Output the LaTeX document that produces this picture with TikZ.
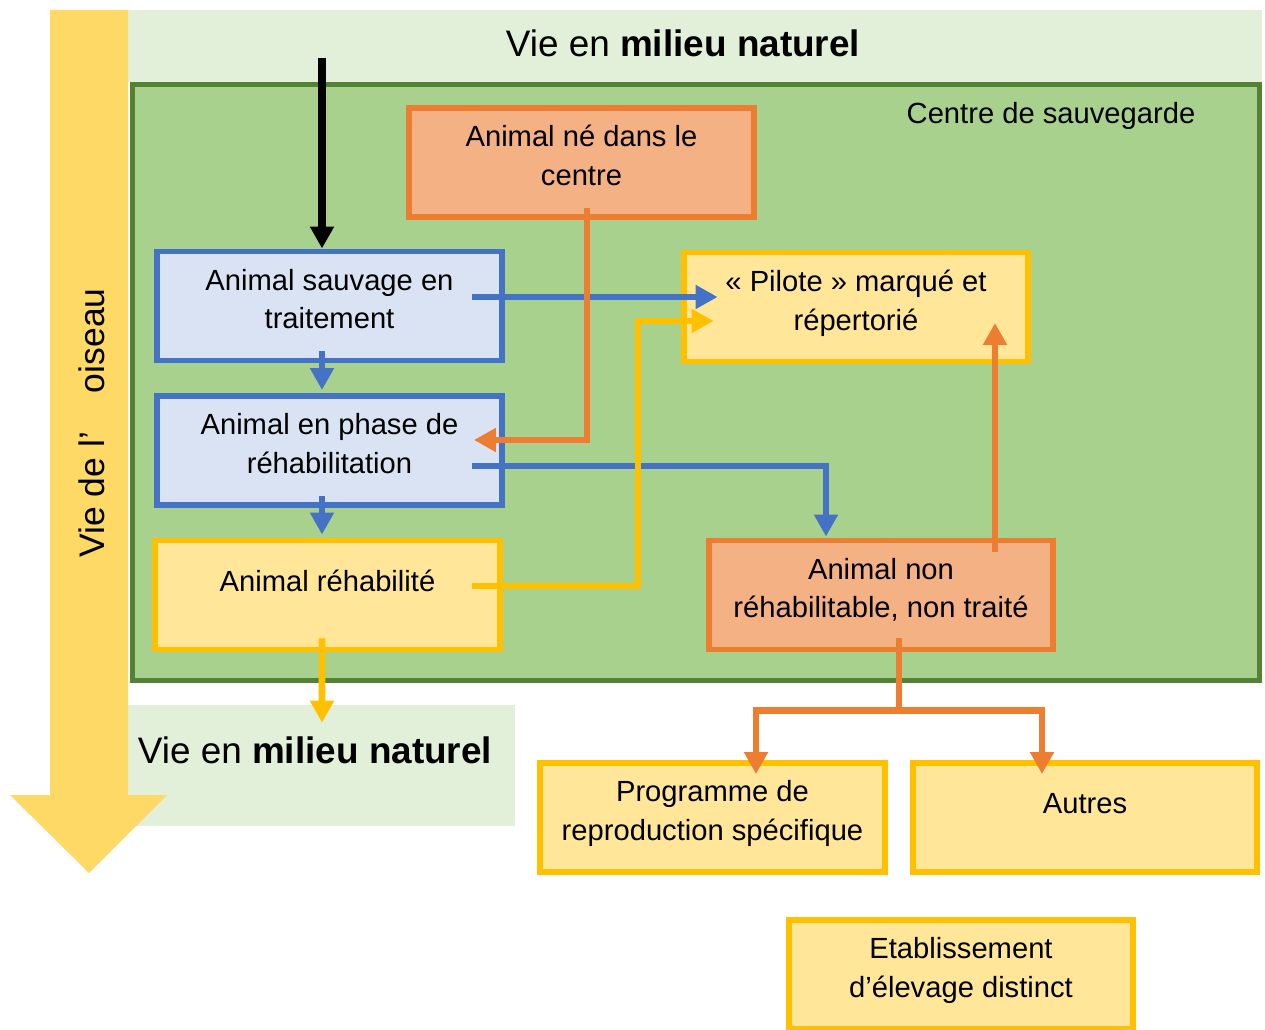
\documentclass[tikz,border=0pt]{standalone}
\usepackage{fontspec}
\setmainfont{Liberation Sans}
\usetikzlibrary{positioning,arrows.meta,calc}

\definecolor{bluebd}{HTML}{4472C4}
\definecolor{bluefill}{HTML}{DAE3F3}
\definecolor{orangebd}{HTML}{ED7D31}
\definecolor{orangefill}{HTML}{F4B183}
\definecolor{goldbd}{HTML}{FFC000}
\definecolor{goldfill}{HTML}{FFE699}
\definecolor{lifegold}{HTML}{FFD966}
\definecolor{centrefill}{HTML}{A9D18E}
\definecolor{centrebd}{HTML}{548235}
\definecolor{wildfill}{HTML}{E2EFD9}

\tikzset{
  stagebox/.style={rectangle, line width=3.4pt, minimum width=6.9cm, minimum height=2.18cm,
    align=center, inner sep=0pt, text depth=8pt, font=\fontsize{16.6}{22}\selectfont},
  bluestage/.style={stagebox, draw=bluebd, fill=bluefill},
  orangestage/.style={stagebox, draw=orangebd, fill=orangefill},
  goldstage/.style={stagebox, draw=goldbd, fill=goldfill},
  flow/.style={line width=3.8pt, -{Triangle[width=13pt,length=12.5pt]}},
  bigtext/.style={font=\fontsize{21}{25}\selectfont},
  smalltext/.style={font=\fontsize{16.6}{22}\selectfont}
}

\begin{document}
\begin{tikzpicture}[x=0.02cm, y=-0.02cm]
    \clip (0,0) rectangle (1265,1030);

    % Draw the natural surroundings
    \node[fill=wildfill, minimum width=22.68cm, minimum height=1.44cm, inner sep=0pt] (wildtop) at (695,46) {};
    \node[fill=wildfill, minimum width=7.74cm, minimum height=2.42cm, inner sep=0pt] (wildlow) at (321.5,765.5) {};
    \node[bigtext] (toptitle) at (683,43) {Vie en \textbf{milieu naturel}};
    \node[bigtext] (lowtitle) at (315,750) {Vie en \textbf{milieu naturel}};

    % Draw the life arrow
    \fill[lifegold] (50,10) -- (128,10) -- (128,795) -- (167,795) -- (89,873) -- (10,795) -- (50,795) -- cycle;
    \node[rotate=90, font=\fontsize{20.2}{24}\selectfont] (life) at (92,423) {Vie de l’\hspace{1.1em}oiseau};

    % Draw the centre
    \node[draw=centrebd, fill=centrefill, line width=2.8pt, minimum width=22.56cm, minimum height=11.94cm] (centre) at (696,382.5) {};
    \node[smalltext] (centretitle) at (1051,116) {Centre de sauvegarde};

    % Draw the stages
    \foreach \name/\x/\y/\sty/\txt in {
        born/581.5/162.5/orangestage/{Animal né dans le\\centre},
        wild/329.5/306/bluestage/{Animal sauvage en\\traitement},
        phase/329.5/450.5/bluestage/{Animal en phase de\\réhabilitation},
        rehab/327.5/595/goldstage/{Animal réhabilité\\[-14.2pt]\mbox{}},
        pilot/856/307/goldstage/{« Pilote » marqué et\\répertorié},
        nonrehab/881/595/orangestage/{Animal non\\réhabilitable, non traité},
        prog/712.5/817.5/goldstage/{Programme de\\reproduction spécifique},
        others/1085/817.5/goldstage/{Autres\\[-14.2pt]\mbox{}},
        breed/961/974.5/goldstage/{Etablissement\\d’élevage distinct}} {
      \node[\sty] (\name) at (\x,\y) {\txt};
    }

    % Draw the arrows
    \coordinate (intake) at (322,58);
    \draw[flow, line width=4.2pt] (intake) -- (intake |- wild.north);
    \draw[flow, bluebd] ($(wild.south)+(-7.5,-12.5)$) -- ($(phase.north)+(-7.5,-3)$);
    \draw[flow, bluebd] ($(phase.south)+(-7.5,-12)$) -- ($(rehab.north)+(-5.5,-3)$);
    \draw[flow, bluebd] ($(wild.east)+(-33,-9)$) -- ($(pilot.west)+(37,-10)$);
    \draw[flow, orangebd] ($(born.south)+(5.5,-12)$) |- ($(phase.east)+(-31,-10.5)$);
    \draw[flow, bluebd] ($(phase.east)+(-33,15.5)$) -| ($(nonrehab.north)+(-55,-1)$);
    \draw[flow, goldbd] ($(rehab.east)+(-31,-9)$) -- ++(166,0) |- ($(pilot.west)+(33,14)$);
    \draw[flow, orangebd] ($(nonrehab.north)+(114,14)$) -- ($(pilot.center)+(139,16)$);
    \draw[flow, goldbd] ($(rehab.south)+(-5.5,-14)$) -- ($(wildlow.north)+(0.5,18)$);

    % Draw the fork below the centre
    \coordinate (fork) at ($(nonrehab.south)+(18,58)$);
    \draw[orangebd, line width=3.8pt] ($(nonrehab.south)+(18,-14)$) -- (fork);
    \draw[flow, orangebd] (fork) -| ($(prog.north)+(43.5,14)$);
    \draw[flow, orangebd] (fork) -| ($(others.north)+(-43,14)$);

\end{tikzpicture}
\end{document}
